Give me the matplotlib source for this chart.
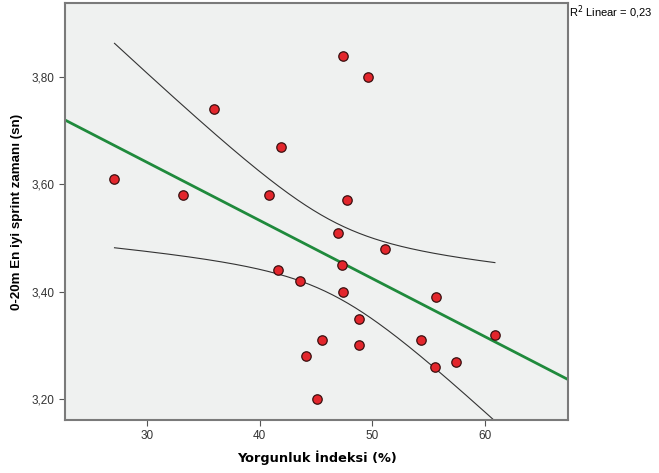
import numpy as np
import matplotlib
matplotlib.use("Agg")
import matplotlib.pyplot as plt

# Yorgunluk indeksi (%) vs 0-20m en iyi sprint zamani (sn)
yorgunluk = [27.1, 33.2, 35.9, 41.9, 40.8, 47.4, 49.6, 47.8, 47.0, 51.1, 47.3, 41.6,
             43.6, 47.4, 55.7, 48.8, 60.9, 45.5, 54.3, 44.1, 48.8, 57.4, 55.6, 45.1]
sprint = [3.61, 3.58, 3.74, 3.67, 3.58, 3.84, 3.80, 3.57, 3.51, 3.48, 3.45, 3.44,
          3.42, 3.40, 3.39, 3.35, 3.32, 3.31, 3.31, 3.28, 3.30, 3.27, 3.26, 3.20]
x_ticks = [30, 40, 50, 60]
y_ticks = [3.20, 3.40, 3.60, 3.80]
r2_label = "0,23"

x = np.array(yorgunluk)
y = np.array(sprint)
n = len(x)

# linear fit and 95% confidence band for the mean
b, a = np.polyfit(x, y, 1)
res = y - (a + b * x)
s = np.sqrt(np.sum(res ** 2) / (n - 2))
sxx = np.sum((x - x.mean()) ** 2)
t = 2.074  # t(0.975, df=22)

fig = plt.figure(figsize=(6.59, 4.73), dpi=100)
ax = fig.add_axes([0.0986, 0.112, 0.7634, 0.8817])
ax.set_facecolor("#eff1f0")

xlim = (22.7, 67.4)
ax.set_xlim(*xlim)
ax.set_ylim(3.161, 3.938)

xl = np.linspace(xlim[0], xlim[1], 100)
ax.plot(xl, a + b * xl, color="#1f8a3c", lw=2.0, zorder=2)

xc = np.linspace(x.min(), x.max(), 200)
half = t * s * np.sqrt(1 / n + (xc - x.mean()) ** 2 / sxx)
ax.plot(xc, a + b * xc + half, color="#333333", lw=0.8, zorder=2)
ax.plot(xc, a + b * xc - half, color="#333333", lw=0.8, zorder=2)

ax.scatter(x, y, s=46, color="#e3262c", edgecolors="#3a1010", linewidths=0.9, zorder=3)

for sp in ax.spines.values():
    sp.set_color("#7a7a7a")
    sp.set_linewidth(1.5)

ax.set_xticks(x_ticks)
ax.set_yticks(y_ticks)
ax.set_yticklabels([("%.2f" % v).replace(".", ",") for v in y_ticks])
ax.tick_params(direction="out", length=4, width=0.8, color="#555555",
               labelsize=8.5, labelcolor="#333333")
for lab in ax.get_xticklabels() + ax.get_yticklabels():
    lab.set_family("Liberation Sans")

ax.set_xlabel("Yorgunluk İndeksi (%)", fontsize=9.3, fontweight="bold",
              family="DejaVu Sans", labelpad=6)
ax.set_ylabel("0-20m En iyi sprint zamanı (sn)", fontsize=9.6, fontweight="bold",
              family="Liberation Sans", labelpad=6)

fig.text(0.863, 0.974, "R$^2$ Linear = " + r2_label,
         fontsize=8, family="Liberation Sans", va="center", ha="left")

fig.savefig("out.png", dpi=100)
